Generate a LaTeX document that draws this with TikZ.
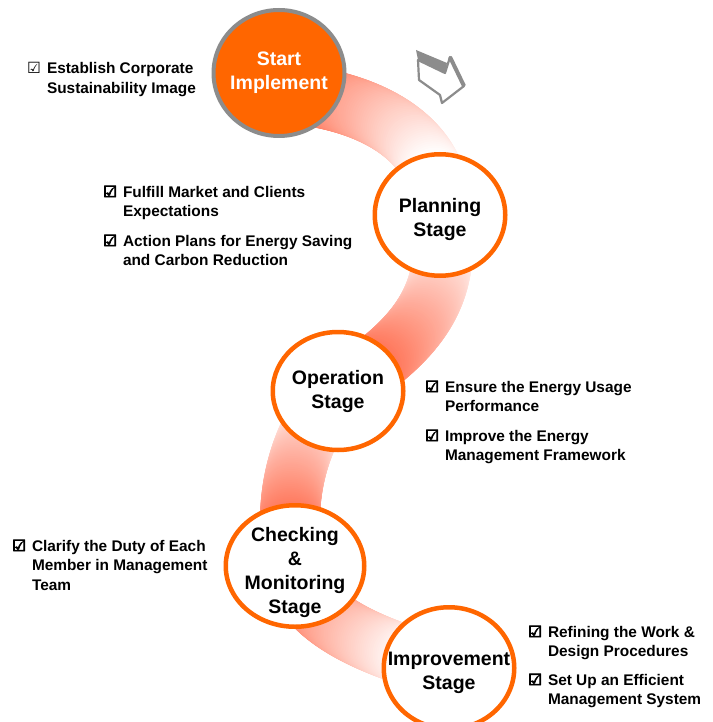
\documentclass[tikz,border=0pt]{standalone}
\usepackage{fontspec}
\setmainfont{Liberation Sans}
\newfontfamily\symfont{DejaVu Sans}
\newfontfamily\symheavy[FakeBold=5]{DejaVu Sans}
\usetikzlibrary{shapes.geometric}
\usetikzlibrary{decorations.markings}
\usetikzlibrary{backgrounds}

\definecolor{brand}{HTML}{FF6600}
\definecolor{ring}{HTML}{8C8C8C}
\definecolor{ribbon}{HTML}{FF6E50}

\newcommand{\ticked}[2][\symheavy]{\begin{tabular}[t]{@{}l@{\hspace{6pt}}l@{}}{#1☑} & \begin{tabular}[t]{@{}l@{}}#2\end{tabular}\end{tabular}}

\tikzset{
  stage/.style={ellipse, draw=brand, line width=4.5pt, fill=white, inner sep=-18pt,
    minimum width=130.5pt, minimum height=121.5pt, align=center,
    font=\bfseries\fontsize{19.5}{24}\selectfont},
  note/.style={anchor=base west, inner sep=0pt, font=\bfseries\fontsize{15.4}{19.5}\selectfont},
  band/.style 2 args={decorate, decoration={markings,
    mark=between positions 0 and 1 step 0.01 with {
      \pgfmathsetmacro\mix{max(0,min(100,#1+(#2-#1)*(\pgfkeysvalueof{/pgf/decoration/mark info/sequence number}-1)/100))}
      \fill[ribbon!\mix!white] (0,0) circle (30pt);}}},
}

\begin{document}
\begin{tikzpicture}[x=1pt,y=-1pt]
  \useasboundingbox (0,0) rectangle (712,722);

  % stages
  \node[stage, draw=ring, fill=brand, text=white, line width=4pt, minimum width=131pt, minimum height=126pt] (start) at (279,73) {Start\\Implement};
  \node[stage, text height=47pt] (plan) at (440,215) {Planning\\Stage};
  \node[stage, minimum height=118pt] (oper) at (338,391) {Operation\\Stage};
  \node[stage, minimum width=138.5pt, text height=98.5pt] (check) at (295,566) {Checking\\\&\\Monitoring\\Stage};
  \node[stage, text height=47pt] (improve) at (449,668) {Improvement\\Stage};

  % ribbon behind the stages
  \begin{scope}[on background layer]
    \fill[white] (0,0) rectangle (712,722);
    \path[band={115}{-20}] ([yshift=-20pt]start.center) .. controls (370,98) and (445,140) .. (plan.center);
    \path[band={-20}{115}] (plan.center) .. controls (455,300) and (410,345) .. (oper.center);
    \path[band={-20}{115}] (oper.center) .. controls (300,430) and (280,500) .. (check.center);
    \path[band={110}{-15}] (check.center) .. controls (300,620) and (380,650) .. (improve.center);
  \end{scope}

  % notes
  \node[note] (corp) at (27,74) {\ticked[\symfont]{Establish Corporate\\Sustainability Image}};
  \node[note] (market) at (103,197) {\ticked{Fulfill Market and Clients\\Expectations}};
  \node[note] (saving) at (103,246) {\ticked{Action Plans for Energy Saving\\and Carbon Reduction}};
  \node[note] (usage) at (425,392) {\ticked{Ensure the Energy Usage\\Performance}};
  \node[note] (framework) at (425,441) {\ticked{Improve the Energy\\Management Framework}};
  \node[note] (duty) at (12,551) {\ticked{Clarify the Duty of Each\\Member in Management\\Team}};
  \node[note] (refine) at (528,637) {\ticked{Refining the Work \&\\Design Procedures}};
  \node[note] (system) at (528,685) {\ticked{Set Up an Efficient\\Management System}};

  % turn arrow
  \fill[ring] (418,60) -- (416,50) -- (447,63) -- (445,73) -- cycle;
  \draw[ring, line width=4pt] (450,57) -- (464,86);
  \draw[ring, line width=2.2pt, line join=round] (418,60) -- (445,73) -- (450,57) -- (464,86) -- (442,103) -- (440,95) -- (419,80) -- cycle;
\end{tikzpicture}
\end{document}
